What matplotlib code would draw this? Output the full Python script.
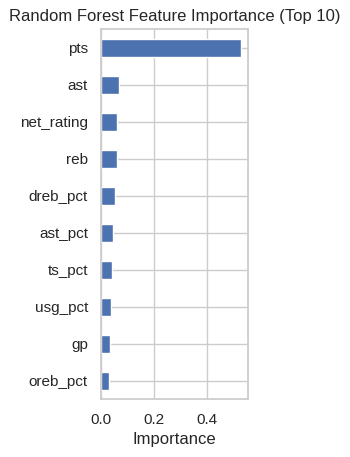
import matplotlib
matplotlib.use("Agg")
import matplotlib.pyplot as plt
import seaborn as sns

# Feature importances, top 10
features = ["pts", "ast", "net_rating", "reb", "dreb_pct",
            "ast_pct", "ts_pct", "usg_pct", "gp", "oreb_pct"]
importance = [0.531, 0.069, 0.062, 0.061, 0.054,
              0.046, 0.042, 0.038, 0.035, 0.031]


def main():
    sns.set_theme(style="whitegrid")
    plt.rcParams["font.family"] = ["Liberation Sans", "DejaVu Sans"]

    fig = plt.figure(figsize=(3.5, 4.57), dpi=100)
    ax = fig.add_axes([0.289, 0.126, 0.42, 0.81])

    # smallest at bottom, largest at top
    names = features[::-1]
    vals = importance[::-1]
    ax.barh(range(len(names)), vals, height=0.5, color="#4C72B0")
    ax.set_yticks(range(len(names)))
    ax.set_yticklabels(names)
    ax.set_ylim(-0.5, len(names) - 0.5)
    ax.set_xlim(0, max(vals) * 1.05)

    ax.set_title("Random Forest Feature Importance (Top 10)")
    ax.set_xlabel("Importance")

    fig.savefig("out.png", dpi=100)


if __name__ == "__main__":
    main()
